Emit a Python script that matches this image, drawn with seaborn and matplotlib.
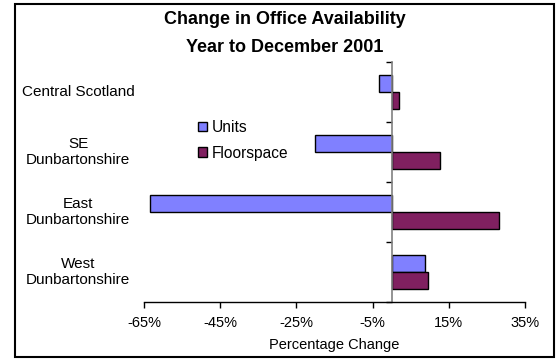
import matplotlib
matplotlib.use("Agg")
import matplotlib.pyplot as plt
import seaborn as sns
import pandas as pd
from matplotlib.patches import Rectangle
from matplotlib.ticker import FuncFormatter

categories = ["Central Scotland", "SE\nDunbartonshire", "East\nDunbartonshire", "West\nDunbartonshire"]
units = [-3.4, -20.0, -63.5, 8.8]
floorspace = [1.9, 12.6, 28.3, 9.6]
series_names = ["Units", "Floorspace"]
x_ticks = [-65, -45, -25, -5, 15, 35]

df = pd.DataFrame({
    "Area": categories * 2,
    "Change": units + floorspace,
    "Series": [series_names[0]] * len(categories) + [series_names[1]] * len(categories),
})

sns.set_theme(style="white")
plt.rcParams["font.family"] = ["Liberation Sans", "DejaVu Sans"]
plt.rcParams["text.color"] = "black"

fig = plt.figure(figsize=(5.58, 3.60), dpi=100)
ax = fig.add_axes([144/558, 1 - 302/360, (525 - 144)/558, (302 - 62)/360])

sns.barplot(data=df, x="Change", y="Area", hue="Series", hue_order=series_names,
            order=categories, orient="h", palette=["#8080FF", "#802060"], saturation=1,
            width=0.567, edgecolor="black", linewidth=1.0, ax=ax, legend=True)

ax.set_xlim(-65, 35)
ax.set_ylim(len(categories) - 0.5, -0.5)
ax.set_xticks(x_ticks)
ax.xaxis.set_major_formatter(FuncFormatter(lambda v, p: f"{v:.0f}%"))
ax.set_yticks([i - 0.5 for i in range(len(categories) + 1)])
ax.set_yticklabels([])
ax.set_ylabel("")
ax.set_xlabel("Percentage Change", fontsize=10.5, color="black", labelpad=6)

for s in ["top", "right"]:
    ax.spines[s].set_visible(False)
ax.spines["left"].set_position(("data", 0))
ax.spines["left"].set_color("#808080")
ax.spines["left"].set_linewidth(1.2)
ax.spines["bottom"].set_color("black")
ax.spines["bottom"].set_linewidth(1.0)

ax.tick_params(axis="x", direction="out", length=4, width=1, color="black",
               labelsize=10.5, labelcolor="black", pad=6, bottom=True)
ax.tick_params(axis="y", direction="out", length=4, width=1, color="black", left=True)

for i, c in enumerate(categories):
    ax.text(-0.173, i, c, transform=ax.get_yaxis_transform(), ha="center", va="center",
            fontsize=11, color="black", linespacing=1.25)

leg = ax.legend(loc="upper left", bbox_to_anchor=(184/558, 1 - 106/360),
                bbox_transform=fig.transFigure, frameon=False, fontsize=11.2,
                handlelength=0.6, handleheight=0.6, handletextpad=0.3, labelspacing=0.68)
for t in leg.get_texts():
    t.set_color("black")

fig.text(285/558, 1 - 20/360, "Change in Office Availability", ha="center", va="center",
         fontsize=13, fontweight="bold", color="black")
fig.text(285/558, 1 - 47/360, "Year to December 2001", ha="center", va="center",
         fontsize=13, fontweight="bold", color="black")

fig.patches.append(Rectangle((15/558, 3/360), (554 - 15)/558, (356 - 3)/360,
                             transform=fig.transFigure, fill=False, edgecolor="black",
                             linewidth=1.5))

fig.savefig("out.png", dpi=100)
